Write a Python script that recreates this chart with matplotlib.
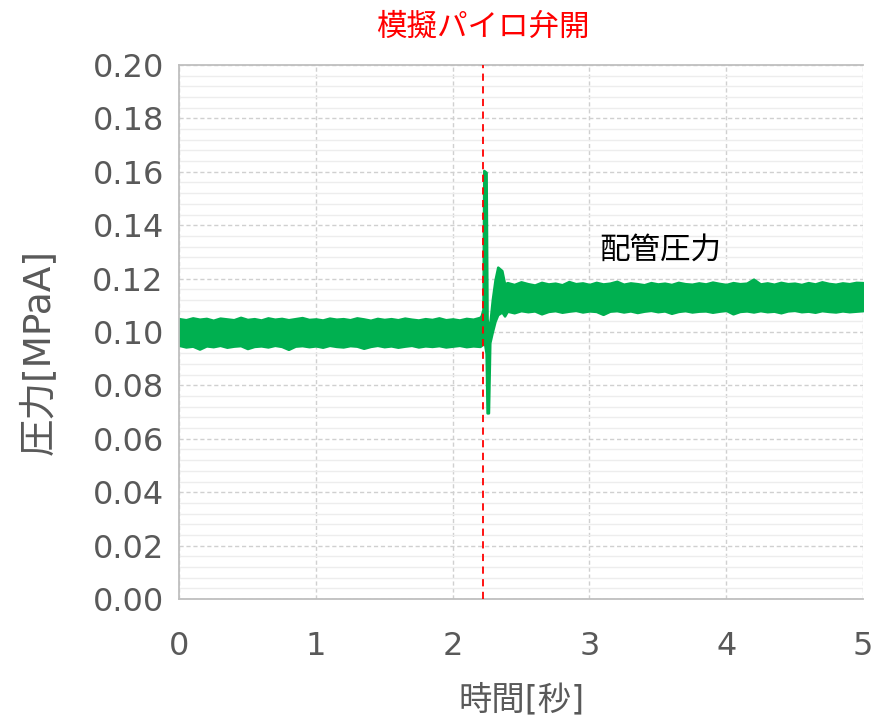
import matplotlib.pyplot as plt
import numpy as np
from matplotlib.ticker import MultipleLocator, FormatStrFormatter

plt.rcParams["font.family"] = ["Noto Sans CJK JP", "DejaVu Sans"]

# --- data (envelope of the noisy pressure signal) ---

t_pre = [0.00, 0.05, 0.10, 0.15, 0.20, 0.25, 0.30, 0.35, 0.40, 0.45,
         0.50, 0.55, 0.60, 0.65, 0.70, 0.75, 0.80, 0.85, 0.90, 0.95,
         1.00, 1.05, 1.10, 1.15, 1.20, 1.25, 1.30, 1.35, 1.40, 1.45,
         1.50, 1.55, 1.60, 1.65, 1.70, 1.75, 1.80, 1.85, 1.90, 1.95,
         2.00, 2.05, 2.10, 2.15, 2.20]
upper_pre = [0.1050, 0.1046, 0.1053, 0.1048, 0.1051, 0.1044, 0.1052, 0.1049, 0.1046, 0.1055,
             0.1047, 0.1050, 0.1045, 0.1053, 0.1048, 0.1051, 0.1046, 0.1050, 0.1054, 0.1047,
             0.1049, 0.1045, 0.1052, 0.1048, 0.1050, 0.1046, 0.1053, 0.1049, 0.1044, 0.1051,
             0.1047, 0.1050, 0.1046, 0.1052, 0.1048, 0.1045, 0.1050, 0.1047, 0.1053, 0.1046,
             0.1049, 0.1045, 0.1051, 0.1048, 0.1055]
lower_pre = [0.0950, 0.0944, 0.0947, 0.0936, 0.0948, 0.0945, 0.0950, 0.0943, 0.0947, 0.0949,
             0.0938, 0.0946, 0.0948, 0.0944, 0.0950, 0.0946, 0.0935, 0.0947, 0.0949, 0.0945,
             0.0948, 0.0943, 0.0950, 0.0946, 0.0944, 0.0949, 0.0947, 0.0939, 0.0946, 0.0950,
             0.0945, 0.0948, 0.0943, 0.0947, 0.0950, 0.0944, 0.0948, 0.0946, 0.0949, 0.0944,
             0.0947, 0.0950, 0.0945, 0.0948, 0.0946]

t_event = [2.21, 2.222, 2.228, 2.245, 2.252, 2.262, 2.272, 2.29, 2.31, 2.33, 2.36, 2.38]
upper_event = [0.1062, 0.1085, 0.1605, 0.1598, 0.1050, 0.1010, 0.1030, 0.1120, 0.1195, 0.1243, 0.1230, 0.1180]
lower_event = [0.0950, 0.0960, 0.0975, 0.0920, 0.0697, 0.0697, 0.0960, 0.1000, 0.1040, 0.1065, 0.1075, 0.1060]

t_post = [2.40, 2.45, 2.50, 2.55, 2.60, 2.65, 2.70, 2.75, 2.80, 2.85,
          2.90, 2.95, 3.00, 3.05, 3.10, 3.15, 3.20, 3.25, 3.30, 3.35,
          3.40, 3.45, 3.50, 3.55, 3.60, 3.65, 3.70, 3.75, 3.80, 3.85,
          3.90, 3.95, 4.00, 4.05, 4.10, 4.15, 4.20, 4.25, 4.30, 4.35,
          4.40, 4.45, 4.50, 4.55, 4.60, 4.65, 4.70, 4.75, 4.80, 4.85,
          4.90, 4.95, 5.00]
upper_post = [0.1185, 0.1178, 0.1188, 0.1181, 0.1176, 0.1186, 0.1180, 0.1183, 0.1177, 0.1189,
              0.1181, 0.1184, 0.1178, 0.1186, 0.1180, 0.1183, 0.1190, 0.1179, 0.1184, 0.1181,
              0.1177, 0.1185, 0.1180, 0.1183, 0.1178, 0.1186, 0.1181, 0.1179, 0.1184, 0.1180,
              0.1187, 0.1182, 0.1178, 0.1185, 0.1181, 0.1183, 0.1198, 0.1180, 0.1184, 0.1179,
              0.1186, 0.1181, 0.1183, 0.1178, 0.1185, 0.1180, 0.1188, 0.1182, 0.1179, 0.1184,
              0.1181, 0.1186, 0.1185]
lower_post = [0.1078, 0.1072, 0.1080, 0.1076, 0.1079, 0.1068, 0.1077, 0.1080, 0.1074, 0.1078,
              0.1081, 0.1075, 0.1079, 0.1077, 0.1066, 0.1078, 0.1080, 0.1075, 0.1079, 0.1073,
              0.1078, 0.1081, 0.1076, 0.1079, 0.1070, 0.1077, 0.1080, 0.1075, 0.1078, 0.1079,
              0.1074, 0.1078, 0.1081, 0.1068, 0.1077, 0.1079, 0.1075, 0.1080, 0.1076, 0.1078,
              0.1072, 0.1079, 0.1081, 0.1076, 0.1078, 0.1074, 0.1080, 0.1077, 0.1075, 0.1079,
              0.1076, 0.1078, 0.1080]

t_valve = 2.22

t = np.array(t_pre + t_event + t_post)
upper = np.array(upper_pre + upper_event + upper_post)
lower = np.array(lower_pre + lower_event + lower_post)

# --- figure ---

fig = plt.figure(figsize=(8.85, 7.28), dpi=100)
ax = fig.add_axes([0.2023, 0.1772, 0.7728, 0.7335])

green = "#00B050"
ax.fill_between(t, lower, upper, color=green, linewidth=1.8, edgecolor=green)

ax.axvline(t_valve, color="#FF0000", linestyle=(0, (4, 3)), linewidth=1.3, zorder=3)

ax.set_xlim(0, 5)
ax.set_ylim(0, 0.20)
ax.xaxis.set_major_locator(MultipleLocator(1))
ax.yaxis.set_major_locator(MultipleLocator(0.02))
ax.yaxis.set_minor_locator(MultipleLocator(0.004))
ax.yaxis.set_major_formatter(FormatStrFormatter("%.2f"))

ax.grid(which="major", color="#D0D0D0", linestyle=(0, (3, 2)), linewidth=1.0)
ax.grid(which="minor", axis="y", color="#EDEDED", linestyle="-", linewidth=1.0)
ax.set_axisbelow(True)

for side in ["left", "bottom", "top"]:
    ax.spines[side].set_color("#BFBFBF")
    ax.spines[side].set_linewidth(1.3)
ax.spines["right"].set_visible(False)

ax.tick_params(which="both", length=0, labelsize=23, colors="#595959")
ax.tick_params(axis="x", pad=23)
ax.tick_params(axis="y", pad=11)
for lab in ax.get_xticklabels() + ax.get_yticklabels():
    lab.set_family("DejaVu Sans")

latin_first = ["DejaVu Sans", "Noto Sans CJK JP"]
ax.set_xlabel("時間[秒]", fontsize=24, color="#595959", family=latin_first)
ax.xaxis.set_label_coords(0.501, -0.189)
ax.set_ylabel("圧力[MPaA]", fontsize=27, color="#595959", family=latin_first)
ax.yaxis.set_label_coords(-0.205, 0.4625)
ax.xaxis.label.set_va("center")
ax.yaxis.label.set_va("center")

ax.text(t_valve, 1.071, "模擬パイロ弁開", transform=ax.get_xaxis_transform(),
        ha="center", va="center", color="#FF0000", fontsize=22)
ax.text(3.52, 0.1307, "配管圧力", ha="center", va="center", color="#000000", fontsize=22)

fig.savefig("out.png", dpi=100, facecolor="white")
plt.close(fig)
